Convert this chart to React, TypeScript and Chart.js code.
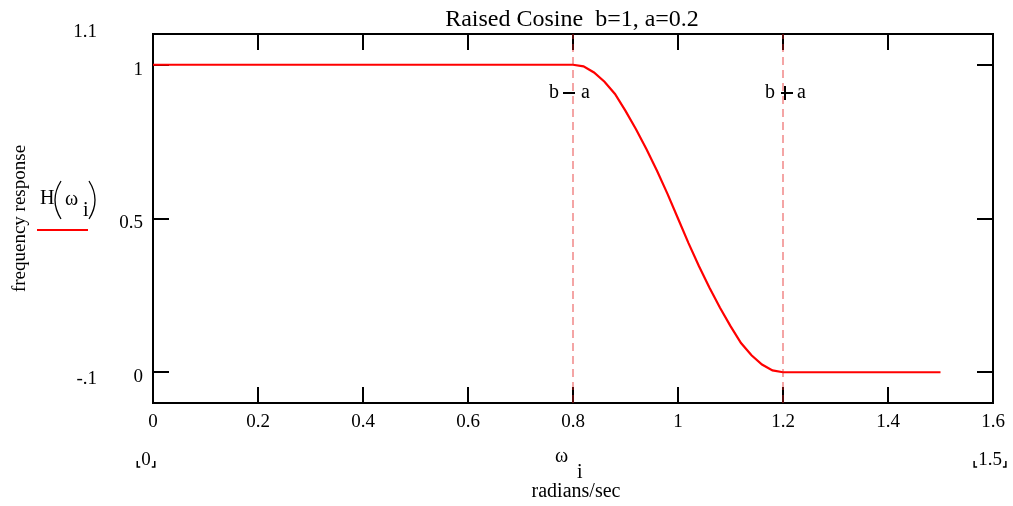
import React, { useEffect, useRef } from "react";
import { Chart, registerables } from "chart.js";

Chart.register(...registerables);

const titleText = "Raised Cosine  b=1, a=0.2";
const yAxisTitle = "frequency response";
const xUnitLabel = "radians/sec";

const omegaValues = [0, 0.8, 0.82, 0.84, 0.86, 0.88, 0.9, 0.92, 0.94, 0.96, 0.98, 1.0, 1.02, 1.04, 1.06, 1.08, 1.1, 1.12, 1.14, 1.16, 1.18, 1.2, 1.5];
const responseValues = [1, 1, 0.995, 0.975, 0.945, 0.905, 0.85, 0.79, 0.725, 0.655, 0.58, 0.5, 0.42, 0.345, 0.275, 0.21, 0.15, 0.095, 0.055, 0.025, 0.006, 0, 0];

const xTickValues = [0, 0.2, 0.4, 0.6, 0.8, 1, 1.2, 1.4, 1.6];
const xTickLabels = ["0", "0.2", "0.4", "0.6", "0.8", "1", "1.2", "1.4", "1.6"];
const yTickValues = [0, 0.5, 1];
const yTickLabels = ["0", "0.5", "1"];
const xRange = [0, 1.6];
const yRange = [-0.1, 1.1];
const yLimitLabels = ["1.1", "-.1"];
const xLimitLabels = ["0", "1.5"];

const markerValues = [0.8, 1.2];
const markerKinds = ["minus", "plus"];

const FONT = "'Liberation Serif', 'Times New Roman', serif";

const decorPlugin = {
  id: "decor",
  beforeDatasetsDraw(chart: any) {
    const { ctx, chartArea } = chart;
    const { left, right, top, bottom } = chartArea;
    const xs = chart.scales.x;
    const ys = chart.scales.y;
    ctx.save();
    ctx.strokeStyle = "#000";
    ctx.lineWidth = 2;
    ctx.beginPath();
    xTickValues.forEach((v) => {
      const px = Math.round(xs.getPixelForValue(v));
      ctx.moveTo(px, bottom);
      ctx.lineTo(px, bottom - 16);
      ctx.moveTo(px, top);
      ctx.lineTo(px, top + 16);
    });
    yTickValues.forEach((v) => {
      const py = Math.round(ys.getPixelForValue(v));
      ctx.moveTo(left, py);
      ctx.lineTo(left + 16, py);
      ctx.moveTo(right, py);
      ctx.lineTo(right - 16, py);
    });
    ctx.stroke();
    ctx.strokeRect(left, top, right - left, bottom - top);
    ctx.restore();
  },
  afterDraw(chart: any) {
    const { ctx, chartArea } = chart;
    const { left, right, top, bottom } = chartArea;
    const xs = chart.scales.x;
    ctx.save();
    ctx.fillStyle = "#000";
    ctx.strokeStyle = "#000";

    // title
    ctx.font = `24px ${FONT}`;
    ctx.textAlign = "center";
    ctx.textBaseline = "alphabetic";
    ctx.fillText(titleText, (left + right) / 2 - 1, 26);

    // y range limits
    ctx.font = `19px ${FONT}`;
    ctx.textAlign = "right";
    ctx.fillText(yLimitLabels[0], left - 56, top + 3);
    ctx.fillText(yLimitLabels[1], left - 56, bottom - 19);

    // y axis title
    ctx.save();
    ctx.translate(25, (top + bottom) / 2);
    ctx.rotate(-Math.PI / 2);
    ctx.textAlign = "center";
    ctx.fillText(yAxisTitle, 0, 0);
    ctx.restore();

    // legend H(ω_i)
    ctx.textAlign = "left";
    ctx.font = `20px ${FONT}`;
    ctx.fillText("H", 40, 204);
    ctx.fillText("ω", 65, 205);
    ctx.fillText("i", 83, 216);
    ctx.lineWidth = 1.3;
    ctx.beginPath();
    ctx.moveTo(61, 181);
    ctx.quadraticCurveTo(49, 200, 61, 219);
    ctx.moveTo(89, 181);
    ctx.quadraticCurveTo(101, 200, 89, 219);
    ctx.stroke();
    ctx.strokeStyle = "#ff0000";
    ctx.lineWidth = 2;
    ctx.beginPath();
    ctx.moveTo(37, 230);
    ctx.lineTo(88, 230);
    ctx.stroke();

    // x variable and unit
    ctx.fillStyle = "#000";
    ctx.strokeStyle = "#000";
    ctx.textAlign = "left";
    ctx.fillText("ω", 555, 462);
    ctx.fillText("i", 577, 478);
    ctx.textAlign = "center";
    ctx.fillText(xUnitLabel, 576, 497);

    // x range limits with corner brackets
    ctx.font = `19px ${FONT}`;
    const drawLimit = (text: string, cx: number) => {
      ctx.textAlign = "center";
      ctx.fillText(text, cx, 465);
      const w = ctx.measureText(text).width;
      const l = cx - w / 2 - 4;
      const r = cx + w / 2 + 4;
      ctx.lineWidth = 1.5;
      ctx.beginPath();
      ctx.moveTo(l, 461);
      ctx.lineTo(l, 467);
      ctx.lineTo(l + 3, 467);
      ctx.moveTo(r, 461);
      ctx.lineTo(r, 467);
      ctx.lineTo(r - 3, 467);
      ctx.stroke();
    };
    drawLimit(xLimitLabels[0], left - 7);
    drawLimit(xLimitLabels[1], right - 3);

    // markers b-a, b+a
    const my = 93;
    ctx.font = `20px ${FONT}`;
    markerValues.forEach((v, i) => {
      const px = xs.getPixelForValue(v);
      ctx.lineWidth = 2;
      ctx.textBaseline = "middle";
      if (markerKinds[i] === "minus") {
        ctx.textAlign = "right";
        ctx.fillText("b", px - 14, my);
        ctx.textAlign = "left";
        ctx.fillText("a", px + 8, my);
        ctx.beginPath();
        ctx.moveTo(px - 10, my);
        ctx.lineTo(px + 2, my);
        ctx.stroke();
      } else {
        ctx.textAlign = "right";
        ctx.fillText("b", px - 8, my);
        ctx.textAlign = "left";
        ctx.fillText("a", px + 14, my);
        ctx.beginPath();
        ctx.moveTo(px - 2, my);
        ctx.lineTo(px + 10, my);
        ctx.moveTo(px + 2, my - 7);
        ctx.lineTo(px + 2, my + 7);
        ctx.stroke();
      }
    });
    ctx.restore();
  },
};

export default function App() {
  const ref = useRef<HTMLCanvasElement | null>(null);
  useEffect(() => {
    document.body.style.margin = "0";
    const canvas = ref.current;
    if (!canvas) return;
    const curve = omegaValues.map((x, i) => ({ x, y: responseValues[i] }));
    const markerSets = markerValues.map((v) => ({
      data: [
        { x: v, y: yRange[0] },
        { x: v, y: yRange[1] },
      ],
      borderColor: "rgba(228, 30, 30, 0.8)",
      borderWidth: 1,
      borderDash: [8, 5],
      pointRadius: 0,
      fill: false,
    }));
    const chart = new Chart(canvas, {
      type: "line",
      data: {
        datasets: [
          ...markerSets,
          {
            data: curve,
            borderColor: "#ff0000",
            borderWidth: 2.2,
            pointRadius: 0,
            fill: false,
            tension: 0,
          },
        ],
      },
      options: {
        responsive: false,
        animation: false,
        events: [],
        layout: { padding: { top: 34, right: 20, left: 0, bottom: 0 } },
        plugins: {
          legend: { display: false },
          title: { display: false },
          tooltip: { enabled: false },
        },
        scales: {
          x: {
            type: "linear",
            min: xRange[0],
            max: xRange[1],
            grid: { display: false, drawTicks: false },
            border: { display: false },
            afterBuildTicks: (s: any) => {
              s.ticks = xTickValues.map((v) => ({ value: v }));
            },
            afterFit: (s: any) => {
              s.height = 103;
            },
            ticks: {
              padding: 8,
              color: "#000",
              font: { family: FONT, size: 19 },
              maxRotation: 0,
              autoSkip: false,
              callback: (v: any) => {
                const idx = xTickValues.findIndex((t) => Math.abs(t - v) < 1e-9);
                return idx >= 0 ? xTickLabels[idx] : "";
              },
            },
          },
          y: {
            type: "linear",
            min: yRange[0],
            max: yRange[1],
            grid: { display: false, drawTicks: false },
            border: { display: false },
            afterBuildTicks: (s: any) => {
              s.ticks = yTickValues.map((v) => ({ value: v }));
            },
            afterFit: (s: any) => {
              s.width = 153;
            },
            ticks: {
              padding: 10,
              labelOffset: 5,
              color: "#000",
              font: { family: FONT, size: 19 },
              autoSkip: false,
              callback: (v: any) => {
                const idx = yTickValues.findIndex((t) => Math.abs(t - v) < 1e-9);
                return idx >= 0 ? yTickLabels[idx] : "";
              },
            },
          },
        },
      },
      plugins: [decorPlugin],
    } as any);
    return () => chart.destroy();
  }, []);
  return (
    <canvas
      ref={ref}
      width={1013}
      height={506}
      style={{ display: "block", width: 1013, height: 506 }}
    />
  );
}
